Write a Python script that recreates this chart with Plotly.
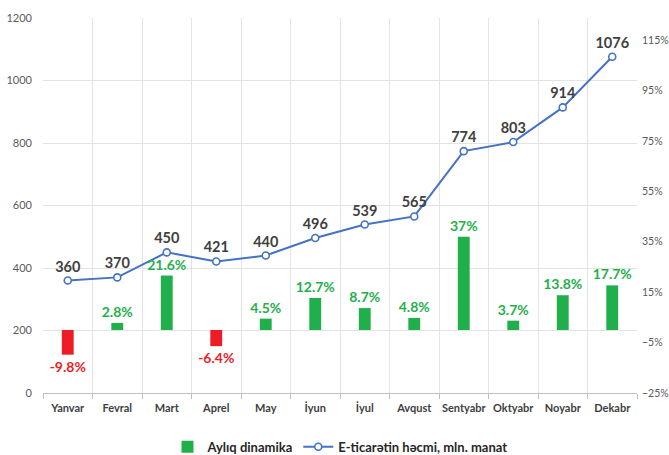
import plotly.graph_objects as go

months = ["Yanvar", "Fevral", "Mart", "Aprel", "May", "İyun", "İyul",
          "Avqust", "Sentyabr", "Oktyabr", "Noyabr", "Dekabr"]
volume = [360, 370, 450, 421, 440, 496, 539, 565, 774, 803, 914, 1076]
monthly_change = [-9.8, 2.8, 21.6, -6.4, 4.5, 12.7, 8.7, 4.8, 37, 3.7, 13.8, 17.7]

GREEN = "#1FB04B"
RED = "#EE1C25"
BLUE = "#4472C4"

pos_vals = [v if v >= 0 else None for v in monthly_change]
neg_vals = [v if v < 0 else None for v in monthly_change]
pos_text = [f"{v:g}%" if v >= 0 else "" for v in monthly_change]
neg_text = [f"{v:g}%" if v < 0 else "" for v in monthly_change]

fig = go.Figure()

fig.add_trace(go.Bar(
    x=months, y=pos_vals, yaxis="y2",
    name="Aylıq dinamika",
    marker=dict(color=GREEN, line=dict(width=0)),
    width=0.24,
    text=pos_text, textposition="outside", constraintext="none", textangle=0,
    textfont=dict(color=GREEN, size=14, family="Lato", weight="bold"),
    cliponaxis=False,
))
fig.add_trace(go.Bar(
    x=months, y=neg_vals, yaxis="y2",
    name="Aylıq dinamika (neg)", showlegend=False,
    marker=dict(color=RED, line=dict(width=0)),
    width=0.24,
    text=neg_text, textposition="outside", constraintext="none", textangle=0,
    textfont=dict(color=RED, size=14, family="Lato", weight="bold"),
    cliponaxis=False,
))

fig.add_trace(go.Scatter(
    x=months, y=volume, yaxis="y",
    name="E-ticarətin həcmi, mln. manat",
    mode="lines+markers+text",
    line=dict(color=BLUE, width=2),
    marker=dict(symbol="circle", size=7, color="white", line=dict(color=BLUE, width=1.6)),
    text=[str(v) for v in volume], textposition="top center",
    textfont=dict(color="#404040", size=14.5, family="Lato", weight="bold"),
    cliponaxis=False,
))

fig.update_layout(
    width=669, height=455,
    margin=dict(l=43, r=32, t=18, b=62),
    paper_bgcolor="white", plot_bgcolor="white",
    font=dict(family="Lato", color="#595959", size=11),
    showlegend=True,
    barmode="overlay",
    legend=dict(orientation="h", x=0.5, xanchor="center",
                yref="container", y=0.018, yanchor="middle",
                font=dict(size=13, color="#262626", weight="bold"),
                traceorder="normal"),
    xaxis=dict(
        type="category", tickson="boundaries",
        range=[-0.5, 11.5], autorange=False,
        showgrid=True, gridcolor="#E3E3E3", gridwidth=1,
        showline=True, linecolor="#BFBFBF",
        ticks="outside", ticklen=5, tickcolor="#BFBFBF",
        tickangle=0, automargin=False,
        ticklabelstandoff=5,
        tickfont=dict(size=11, color="#404040", weight="bold"),
    ),
    yaxis=dict(
        range=[0, 1200], dtick=200, tick0=0,
        showgrid=True, gridcolor="#E3E3E3", gridwidth=1,
        zeroline=False, showline=False, automargin=False,
        tickfont=dict(size=11, color="#595959"),
        ticklabelstandoff=10,
    ),
    yaxis2=dict(
        overlaying="y", side="right",
        range=[-25, 123.8], tick0=-25, dtick=20,
        ticksuffix="%", showgrid=False, zeroline=False, showline=False,
        automargin=False,
        tickfont=dict(size=10.5, color="#595959"),
        ticklabelstandoff=4,
    ),
)

fig.write_html("out.html", config={"displayModeBar": False},
               post_script="document.body.style.margin='0';")
